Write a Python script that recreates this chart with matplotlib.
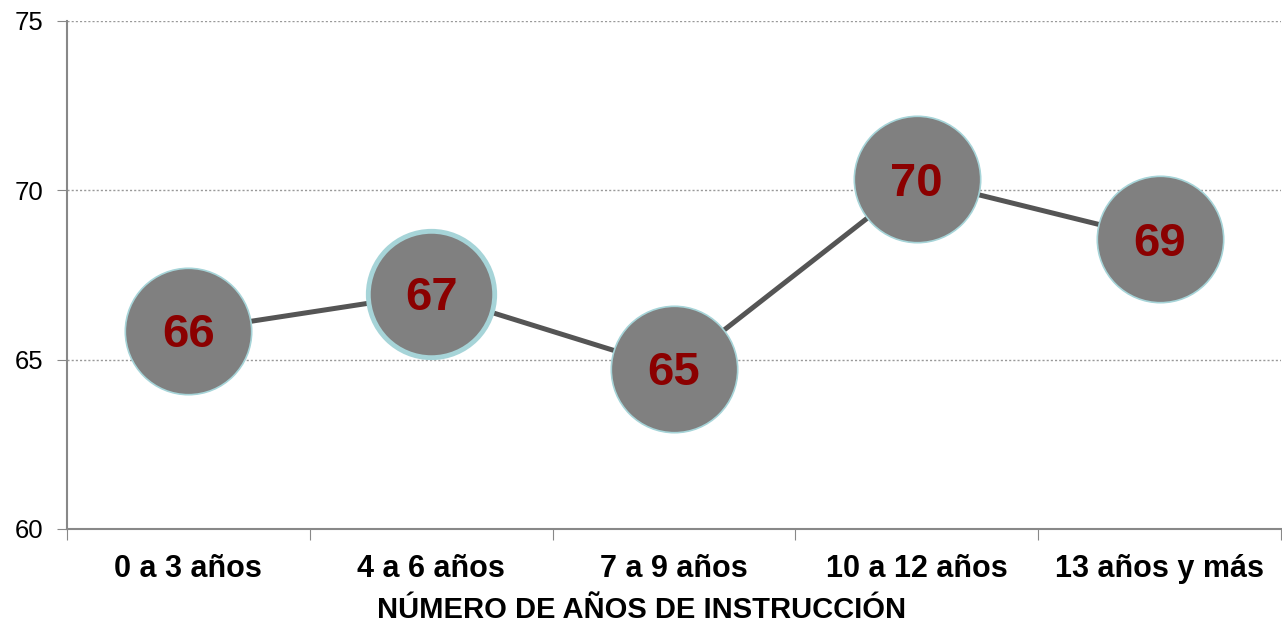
import matplotlib.pyplot as plt
import numpy as np

plt.rcParams['font.family'] = ['Liberation Sans', 'DejaVu Sans']

categories = ['0 a 3 años', '4 a 6 años', '7 a 9 años', '10 a 12 años', '13 años y más']
values = [65.85, 66.95, 64.72, 70.32, 68.55]
labels = ['66', '67', '65', '70', '69']
edge_widths = [1.2, 3.5, 1.2, 1.2, 1.2]

fig = plt.figure(figsize=(12.82, 6.23), dpi=100)
ax = fig.add_axes([67 / 1282, 1 - 529 / 623, 1 - 67 / 1282 - 1 / 1282, (529 - 21) / 623])

x = np.arange(len(categories))
ax.plot(x, values, color='#555555', linewidth=3.6, zorder=2)
for xi, v, lab, ew in zip(x, values, labels, edge_widths):
    ax.plot(xi, v, marker='o', markersize=91, markerfacecolor='#808080',
            markeredgecolor='#a6d4d8', markeredgewidth=ew, zorder=3)
    ax.annotate(lab, (xi, v), xytext=(0, -3), textcoords='offset points',
                ha='center', va='center', fontsize=34, fontweight='bold',
                color='#8b0000', zorder=4)

ax.set_xlim(-0.5, len(categories) - 0.5)
ax.set_ylim(60, 75)
ax.set_yticks([60, 65, 70, 75])
ax.tick_params(axis='y', labelsize=18.5, length=7, color='#888888', pad=10)
ax.set_xticks(np.arange(-0.5, len(categories), 1.0))
ax.set_xticklabels([])
ax.set_xticks(x, minor=True)
ax.set_xticklabels(categories, minor=True, fontsize=22, fontweight='bold')
ax.tick_params(axis='x', which='major', length=8, color='#888888', direction='out')
ax.tick_params(axis='x', which='minor', length=0, pad=18)

ax.grid(axis='y', which='major', linestyle=(0, (1.5, 1.5)), color='#999999', linewidth=1)
ax.set_axisbelow(True)
for side in ['top', 'right']:
    ax.spines[side].set_visible(False)
for side in ['left', 'bottom']:
    ax.spines[side].set_color('#888888')
    ax.spines[side].set_linewidth(1.5)

ax.set_xlabel('NÚMERO DE AÑOS DE INSTRUCCIÓN', fontsize=21, fontweight='bold', labelpad=12)
ax.xaxis.set_label_coords(0.473, -0.1, transform=ax.transAxes)
ax.xaxis.label.set_va('center')
ax.xaxis.set_label_coords(0.473, -(610 - 529) / 508)

fig.savefig('out.png', dpi=100)
